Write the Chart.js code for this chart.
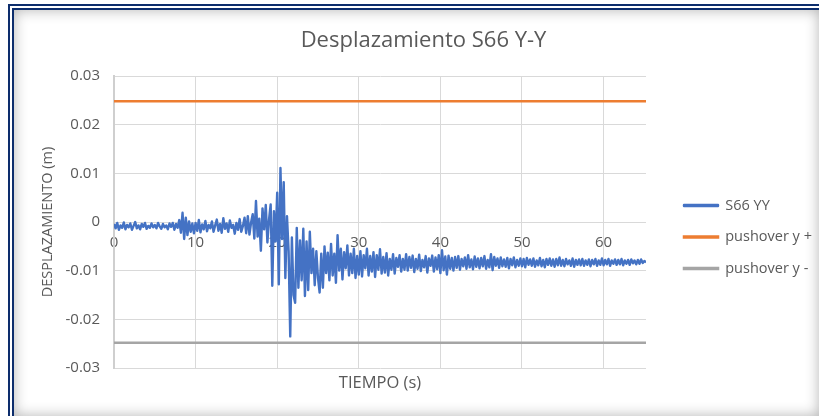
<!DOCTYPE html>
<html>
<head>
<meta charset="utf-8">
<script src="https://cdn.jsdelivr.net/npm/chart.js@4/dist/chart.umd.min.js"></script>
<style>
  body { margin: 0; width: 819px; height: 416px; overflow: hidden; background: #fff; position: relative; }
  .frame {
    position: absolute; left: 8px; top: 4px; right: 0; bottom: 0;
    border-left: 6px double #0d2d6c; border-top: 6px double #0d2d6c;
    box-shadow: inset 0 0 14px rgba(0, 0, 0, 0.3);
  }
  canvas { position: absolute; left: 0; top: 0; }
</style>
</head>
<body>
<div class="frame"></div>
<canvas id="chart" width="819" height="416"></canvas>
<script>
// sampling step of the record (s)
const timeStep = 0.2;

// S66 YY displacement, in mm (5 samples per second)
const s66YyMm = [
  -0.4, -1.3, -0.2, -1.6, -0.7,   -1.2, -0.1, -1.5, -0.6, -1.1,
  -0.3, -1.6, -0.8, 0.0, -1.3,    -0.7, -1.5, -0.4, -1.0, -0.2,
  -1.4, -0.8, -1.2, -0.3, -1.1,   -0.6, -1.3, -0.2, -0.9, -1.4,
  -0.4, -1.1, -0.7, -1.5, -0.3,   -1.0, -0.2, -1.6, -0.4, -1.2,
  0.4, -2.2, 1.9, -3.5, 0.9,      -2.7, 0.1, -2.0, -0.3, -2.3,
  -0.2, -1.8, 0.4, -2.1, -0.5,    -1.5, 0.2, -1.9, -0.6, -1.3,
  0.1, -2.0, -0.7, 0.5, -1.8,     -0.4, -2.2, 0.8, -1.4, -0.3,
  -2.0, 0.3, -1.2, -0.6, -2.4,    -0.2, -1.6, 0.6, -2.0, -0.8,
  0.9, -2.3, 1.2, -2.6, -0.1,     1.6, -3.4, 4.3, -3.0, 0.7,
  -5.9, 2.8, -1.5, 3.5, -4.2,     0.5, 3.6, -13.1, 2.2, -4.0,
  6.0, -12.8, 11.1, -3.5, 8.2,    -11.5, 1.2, -6.0, -23.5, -3.2,
  -15.0, -16.6, -1.2, -13.5, -3.8, -12.0, -1.4, -15.2, -4.0, -14.0,
  -2.0, -10.5, -5.5, -13.0, -6.0, -11.5, -14.5, -6.5, -13.5, -5.0,
  -10.5, -6.3, -12.0, -4.5, -11.0, -6.5, -12.5, -2.7, -10.0, -5.5,
  -11.8, -6.2, -9.5, -4.8, -11.0, -6.5, -10.5, -5.5, -11.5, -7.0,
  -10.8, -6.0, -11.2, -6.8, -9.5, -5.5, -11.0, -7.0, -10.2, -6.2,
  -11.3, -6.8, -9.8, -5.6, -10.6, -7.2, -10.4, -6.4, -11.0, -7.6,
  -9.8, -6.6, -10.6, -7.4, -9.2,  -6.8, -10.2, -7.6, -9.8, -6.6,
  -10.0, -7.2, -9.4, -6.9, -10.3, -7.6, -9.6, -6.7, -10.1, -7.8,
  -9.3, -7.0, -10.4, -7.5, -9.0,  -6.9, -10.2, -7.3, -9.7, -6.8,
  -10.5, -5.8, -9.9, -7.1, -10.8, -6.9, -9.6, -7.4, -10.0, -7.2,
  -9.4, -7.0, -9.8, -7.6, -9.1,   -7.3, -9.6, -6.8, -9.3, -7.7,
  -9.7, -7.1, -9.2, -7.5, -9.5,   -7.4, -9.1, -7.0, -9.6, -7.8,
  -9.3, -6.6, -9.9, -7.2, -9.0,   -7.5, -9.4, -7.3, -9.1, -7.7,
  -9.2, -7.4, -9.5, -7.6, -8.9,   -7.3, -9.3, -7.8, -9.0, -7.5,
  -9.1, -7.6, -9.3, -7.4, -8.8,   -7.7, -9.0, -7.5, -9.2, -7.9,
  -8.9, -7.4, -9.1, -7.8, -9.3,   -7.6, -8.8, -7.5, -9.0, -7.7,
  -9.2, -7.6, -8.9, -7.3, -9.0,   -7.8, -9.1, -7.6, -8.7, -7.9,
  -9.0, -7.5, -9.2, -7.8, -8.8,   -7.7, -8.9, -7.6, -9.0, -7.9,
  -8.8, -7.7, -9.1, -7.8, -8.7,   -7.6, -9.0, -7.9, -8.8, -7.5,
  -8.9, -7.8, -8.7, -7.6, -9.0,   -7.9, -8.6, -7.7, -8.8, -7.8,
  -8.7, -7.6, -8.9, -7.9, -8.6,   -7.8, -8.8, -7.7, -8.5, -7.9,
  -8.7, -7.8, -8.6, -7.7, -8.4,   -8.0, -8.3
];

const pushoverPos = 0.0248;
const pushoverNeg = -0.0248;
const timeMax = 65.2;

const xTickStep = 10;
const yTickMin = -0.03;
const yTickMax = 0.03;
const yTickStep = 0.01;

const seriesNames = ['S66 YY', 'pushover y +', 'pushover y -'];
const seriesColors = ['#4472C4', '#ED7D31', '#A5A5A5'];

const FONT = '"Open Sans", Carlito, Calibri, sans-serif';
const TEXT = '#595959';
const GRID = '#D9D9D9';

// fixed plot frame: y axis band width, legend column, title nudge
const yAxisWidth = 114;
const legendWidth = 173;
const legendInset = 21;
const legendDrop = 29;
const titleShift = 28;

const framePlace = {
  id: 'framePlace',
  beforeLayout(chart) {
    const legend = chart.legend;
    if (legend && !legend._patched) {
      const fit = legend.fit;
      legend.fit = function () {
        fit.call(this);
        this.width = legendWidth;
      };
      legend._patched = true;
    }
  },
  afterLayout(chart) {
    const legend = chart.legend;
    legend.left += legendInset;
    legend.top += legendDrop;
    legend.bottom += legendDrop;
    if (chart.titleBlock) chart.titleBlock.left += titleShift;
  }
};

const s66Points = s66YyMm.map((v, i) => ({ x: +(i * timeStep).toFixed(1), y: v / 1000 }));

new Chart(document.getElementById('chart'), {
  type: 'line',
  data: {
    datasets: [
      {
        label: seriesNames[0],
        data: s66Points,
        borderColor: seriesColors[0],
        backgroundColor: seriesColors[0],
        borderWidth: 2.4,
        borderJoinStyle: 'round',
        pointRadius: 0,
      },
      {
        label: seriesNames[1],
        data: [{ x: 0, y: pushoverPos }, { x: timeMax, y: pushoverPos }],
        borderColor: seriesColors[1],
        backgroundColor: seriesColors[1],
        borderWidth: 2.5,
        pointRadius: 0,
      },
      {
        label: seriesNames[2],
        data: [{ x: 0, y: pushoverNeg }, { x: timeMax, y: pushoverNeg }],
        borderColor: seriesColors[2],
        backgroundColor: seriesColors[2],
        borderWidth: 2.5,
        pointRadius: 0,
      },
    ],
  },
  options: {
    responsive: false,
    animation: false,
    devicePixelRatio: 1,
    layout: { padding: 0 },
    plugins: {
      title: {
        display: true,
        text: 'Desplazamiento S66 Y-Y',
        color: TEXT,
        font: { family: FONT, size: 22, weight: 'normal' },
        padding: { top: 27.8, bottom: 21.8 },
      },
      legend: {
        position: 'right',
        labels: {
          color: TEXT,
          font: { family: FONT, size: 14.5 },
          boxWidth: 34,
          boxHeight: 1,
          padding: 17,
        },
      },
      tooltip: { enabled: false },
    },
    scales: {
      x: {
        type: 'linear',
        position: { y: 0 },
        min: 0,
        max: timeMax,
        ticks: {
          stepSize: xTickStep,
          includeBounds: false,
          color: TEXT,
          font: { family: FONT, size: 15 },
          padding: 12,
          maxRotation: 0,
        },
        grid: { color: GRID, drawTicks: false },
        border: { display: false },
      },
      xTitle: {
        type: 'linear',
        axis: 'x',
        position: 'bottom',
        display: true,
        ticks: { display: false },
        grid: { display: false, drawTicks: false },
        border: { display: false },
        title: {
          display: true,
          text: 'TIEMPO (s)',
          color: TEXT,
          font: { family: FONT, size: 16.5 },
          padding: { top: 5.1, bottom: 23.1 },
        },
      },
      y: {
        min: yTickMin,
        max: yTickMax,
        afterFit: (scale) => { scale.width = yAxisWidth; },
        ticks: {
          stepSize: yTickStep,
          color: TEXT,
          font: { family: FONT, size: 15 },
          padding: 14,
          callback: (v) => String(+v.toFixed(2)),
        },
        grid: { color: GRID, drawTicks: false },
        border: { color: '#CFCFCF', width: 2 },
        title: {
          display: true,
          text: 'DESPLAZAMIENTO (m)',
          color: TEXT,
          font: { family: FONT, size: 14.5 },
          padding: { top: 39.3, bottom: 0 },
        },
      },
    },
  },
  plugins: [framePlace],
});
</script>
</body>
</html>
